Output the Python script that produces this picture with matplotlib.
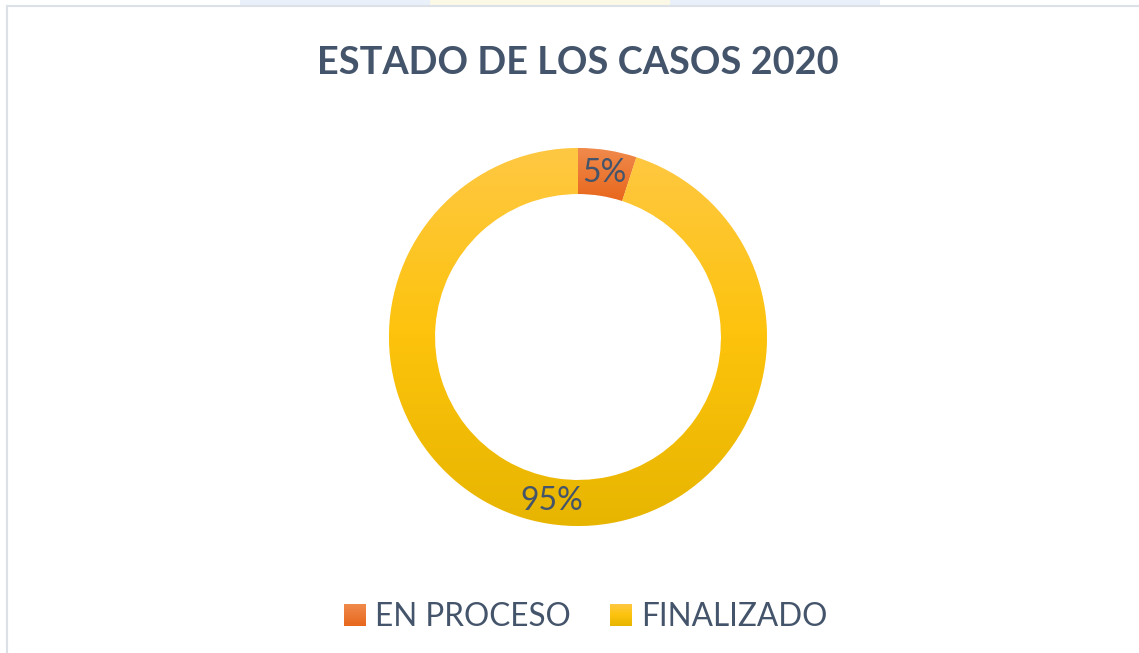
import numpy as np
import matplotlib
matplotlib.use("Agg")
import matplotlib.pyplot as plt
from matplotlib.colors import LinearSegmentedColormap
from matplotlib.patches import Rectangle

# ---- data ----
categories = ["EN PROCESO", "FINALIZADO"]
values = [5, 95]
title = "ESTADO DE LOS CASOS 2020"

W, H = 1139, 653
TEXT = "#44546A"
FONT = "Lato"
fig = plt.figure(figsize=(W / 100, H / 100), dpi=100)
fig.patch.set_facecolor("white")

ax = fig.add_axes([0, 0, 1, 1])
ax.set_xlim(0, W)
ax.set_ylim(H, 0)
ax.set_aspect("equal")
ax.axis("off")

# faint watermark strip and chart frame
ax.add_patch(Rectangle((240, 0), 640, 6, facecolor="#EAF0FA", edgecolor="none", zorder=0))
ax.add_patch(Rectangle((430, 0), 240, 6, facecolor="#FCF8E6", edgecolor="none", zorder=0))
ax.plot([7, 7], [6, H], color="#DCE1E7", lw=1.5, zorder=1)
ax.plot([7, W], [6, 6], color="#DCE1E7", lw=1.5, zorder=1)

cx, cy, R, Wd = 578, 337, 189, 46
# y axis is inverted: start at -90 (screen top) and go counterclockwise in data
# coordinates, which appears clockwise on screen.
wedges, texts, autotexts = ax.pie(
    values, startangle=-90, counterclock=True, center=(cx, cy), radius=R,
    colors=["#EC7A30", "#FFC20E"], autopct=lambda p: f"{p:.0f}%",
    pctdistance=(R - Wd / 2) / R,
    wedgeprops=dict(width=Wd, edgecolor="white", linewidth=0.6),
    textprops=dict(color=TEXT, fontsize=23, family=FONT),
)
ax.set_xlim(0, W)
ax.set_ylim(H, 0)

grad_y = LinearSegmentedColormap.from_list("y", ["#FFC843", "#FDC30C", "#E7B500"])
grad_o = LinearSegmentedColormap.from_list("o", ["#F08A4C", "#E8671C"])
g = np.linspace(0, 1, 256).reshape(-1, 1)
for w, cm in zip(wedges, [grad_o, grad_y]):
    bb = w.get_path().get_extents(w.get_transform())
    x0, y0, x1, y1 = ax.transData.inverted().transform(bb.get_points()).ravel()
    top, bot = min(y0, y1), max(y0, y1)
    im = ax.imshow(g, cmap=cm, extent=(min(x0, x1), max(x0, x1), bot, top),
                   aspect="auto", zorder=w.get_zorder() + 0.1, interpolation="bilinear")
    im.set_clip_path(w)
for t in autotexts:
    t.set_zorder(5)

ax.text(cx, 63, title, ha="center", va="center", fontsize=27.3, fontweight="bold",
        color=TEXT, family=FONT)

# legend
leg = [(344, categories[0], grad_o), (610, categories[1], grad_y)]
for x, lab, cm in leg:
    ax.imshow(g, cmap=cm, extent=(x, x + 22, 626, 604), aspect="auto", zorder=3)
    ax.text(x + 31, 617, lab, ha="left", va="center", fontsize=22.7, color=TEXT,
            family=FONT)

ax.set_xlim(0, W)
ax.set_ylim(H, 0)
fig.savefig("out.png", dpi=100)
